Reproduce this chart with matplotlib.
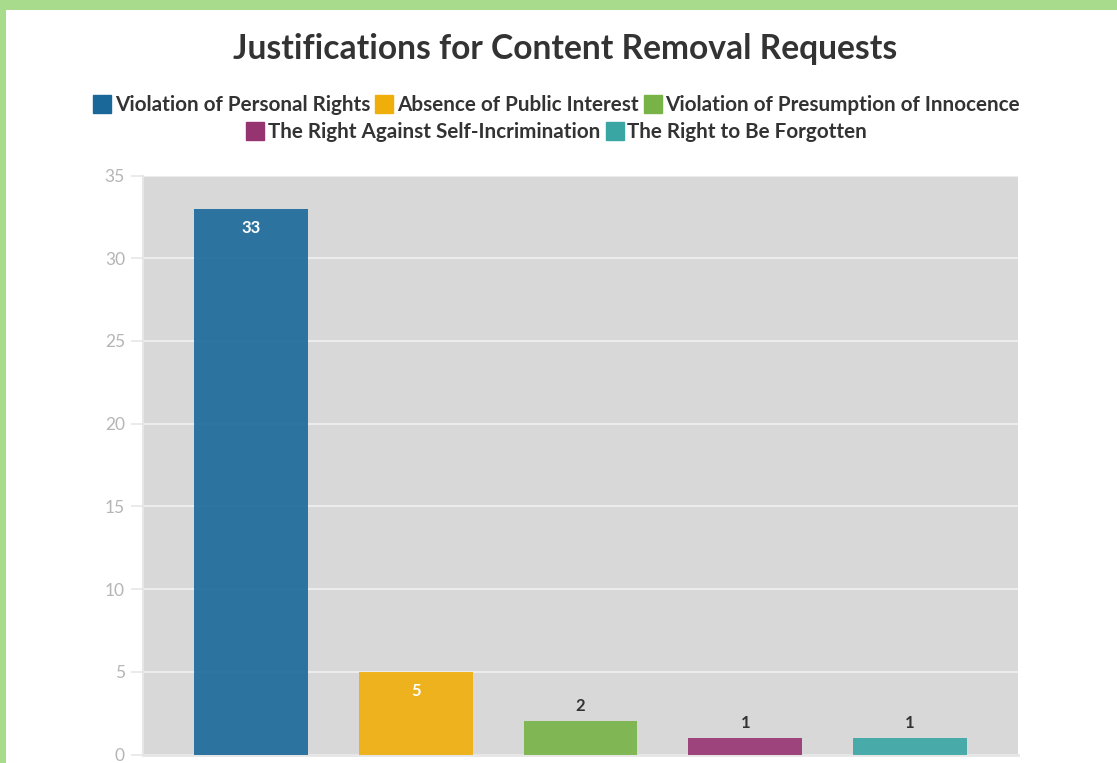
import matplotlib
matplotlib.use("Agg")
import matplotlib.pyplot as plt
from matplotlib.lines import Line2D
from matplotlib.patches import Rectangle

categories = [
    "Violation of Personal Rights",
    "Absence of Public Interest",
    "Violation of Presumption of Innocence",
    "The Right Against Self-Incrimination",
    "The Right to Be Forgotten",
]
counts = [33, 5, 2, 1, 1]
colors = ["#1a6899", "#f0ae0a", "#77b346", "#963471", "#3aa6a4"]
yticks = [0, 5, 10, 15, 20, 25, 30, 35]

plt.rcParams["font.family"] = ["Lato", "DejaVu Sans"]

W, H = 1117, 763
fig = plt.figure(figsize=(W / 100, H / 100), dpi=100)
fig.patch.set_facecolor("#a8dc8c")
# white card inside the green frame (left and top edges)
fig.add_artist(Rectangle((6 / W, 0), 1 - 6 / W, 1 - 10 / H,
                         transform=fig.transFigure, facecolor="white",
                         edgecolor="none", zorder=0))

ax = fig.add_axes([143 / W, 8.5 / H, (1018 - 143) / W, (755 - 176) / H])
ax.set_facecolor("#d8d8d8")
xs = list(range(len(categories)))
ax.bar(xs, counts, width=0.69, color=colors, alpha=0.9, zorder=3)

for x, v in zip(xs, counts):
    if v > 4:
        ax.annotate(str(v), (x, v), xytext=(0, -8), textcoords="offset points",
                    ha="center", va="top", color="white", fontsize=12,
                    fontweight="bold", zorder=4)
    else:
        ax.annotate(str(v), (x, v), xytext=(0, 5), textcoords="offset points",
                    ha="center", va="bottom", color="#333333", fontsize=12,
                    fontweight="bold", zorder=4)

ax.set_xlim(-0.655, 4.655)
ax.set_ylim(0, 35)
ax.set_yticks(yticks)
ax.set_xticks([])
ax.grid(axis="y", color="#ececec", linewidth=1.5, zorder=1)
ax.tick_params(axis="y", length=9, width=1.2, color="#e6e6e6",
               labelcolor="#b5b5b5", labelsize=12.5, pad=4)
for s in ["top", "right"]:
    ax.spines[s].set_visible(False)
ax.spines["left"].set_color("#e6e6e6")
ax.spines["left"].set_linewidth(1.5)
ax.spines["bottom"].set_color("#e6e6e6")
ax.spines["bottom"].set_linewidth(2)

fig.text(565 / W, 1 - 49 / H, "Justifications for Content Removal Requests",
         ha="center", va="center", fontsize=24.2, fontweight="bold",
         color="#333333")

handles = [Line2D([], [], marker="s", linestyle="none", markersize=13,
                  markerfacecolor=c, markeredgecolor=c) for c in colors]
leg_kw = dict(frameon=False, handletextpad=0.2, columnspacing=0.3,
              handlelength=0.8, borderpad=0,
              prop={"weight": "bold", "size": 14.9})
leg1 = fig.legend(handles[:3], categories[:3], ncol=3, loc="center",
                  bbox_to_anchor=(557 / W, 1 - 105 / H), **leg_kw)
leg2 = fig.legend(handles[3:], categories[3:], ncol=2, loc="center",
                  bbox_to_anchor=(557 / W, 1 - 132 / H), **leg_kw)
for leg in (leg1, leg2):
    for t in leg.get_texts():
        t.set_color("#333333")

fig.savefig("out.png", dpi=100, facecolor=fig.get_facecolor())
